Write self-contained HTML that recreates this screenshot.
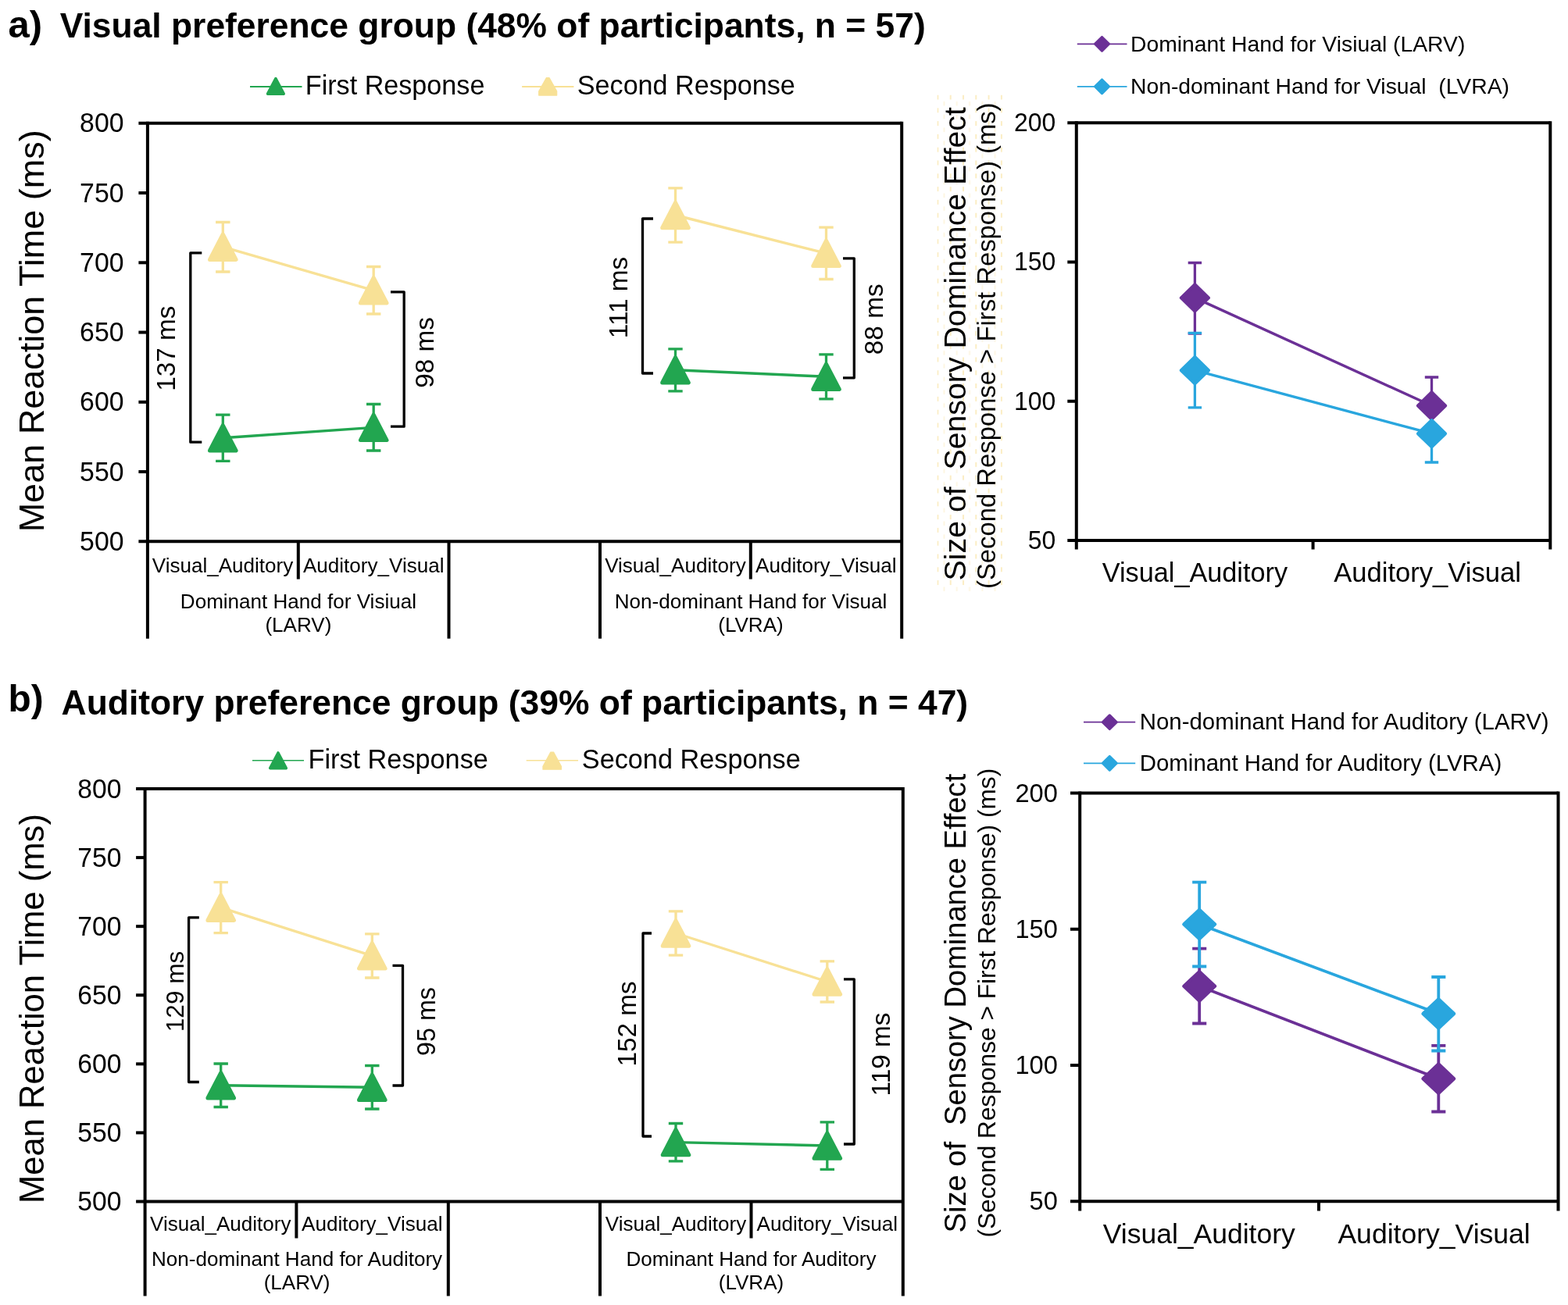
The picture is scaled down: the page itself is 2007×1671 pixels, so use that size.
<!DOCTYPE html>
<html lang="en"><head><meta charset="utf-8"><title>Sensory dominance figure</title>
<style>
html,body{margin:0;padding:0;background:#fff}
svg{display:block}
text{font-family:"Liberation Sans",Arial,Helvetica,sans-serif;fill:#000}
</style></head><body>
<svg width="2007" height="1671" viewBox="0 0 2007 1671">
<rect width="2007" height="1671" fill="#fff"/>
<defs><pattern id="pd" x="1199.4" y="121.5" width="16.3" height="16.8" patternUnits="userSpaceOnUse"><rect x="0" y="0" width="2" height="6" fill="#fbedc4"/><rect x="8.15" y="8.4" width="1.8" height="5.6" fill="#fdf5e0"/></pattern></defs>
<rect x="1199.4" y="121.5" width="84" height="636" fill="url(#pd)"/>
<text x="10.6" y="47.6" font-size="49" text-anchor="start" font-weight="bold">a)</text>
<text x="76.7" y="47.9" font-size="44.4" text-anchor="start" font-weight="bold">Visual preference group (48% of participants, n = 57)</text>
<text x="10.6" y="911.0" font-size="47.8" text-anchor="start" font-weight="bold">b)</text>
<text x="78.6" y="914.5" font-size="44.4" text-anchor="start" font-weight="bold">Auditory preference group (39% of participants, n = 47)</text>
<path d="M177.40 157.8H1154.2" stroke="#000" stroke-width="4" fill="none"/>
<path d="M177.40 693.3H1154.2" stroke="#000" stroke-width="4" fill="none"/>
<line x1="188.9" y1="155.8" x2="188.9" y2="817.7" stroke="#000" stroke-width="4" stroke-linecap="butt"/>
<line x1="1154.2" y1="155.8" x2="1154.2" y2="817.7" stroke="#000" stroke-width="4" stroke-linecap="butt"/>
<text x="158.5" y="169.45" font-size="33.8" text-anchor="end" transform="translate(0 -6.778) scale(1 1.04)">800</text>
<line x1="177.4" y1="247.05" x2="188.9" y2="247.05" stroke="#000" stroke-width="4" stroke-linecap="butt"/>
<text x="158.5" y="258.7" font-size="33.8" text-anchor="end" transform="translate(0 -10.348) scale(1 1.04)">750</text>
<line x1="177.4" y1="336.3" x2="188.9" y2="336.3" stroke="#000" stroke-width="4" stroke-linecap="butt"/>
<text x="158.5" y="347.95" font-size="33.8" text-anchor="end" transform="translate(0 -13.918) scale(1 1.04)">700</text>
<line x1="177.4" y1="425.55" x2="188.9" y2="425.55" stroke="#000" stroke-width="4" stroke-linecap="butt"/>
<text x="158.5" y="437.2" font-size="33.8" text-anchor="end" transform="translate(0 -17.488) scale(1 1.04)">650</text>
<line x1="177.4" y1="514.8" x2="188.9" y2="514.8" stroke="#000" stroke-width="4" stroke-linecap="butt"/>
<text x="158.5" y="526.45" font-size="33.8" text-anchor="end" transform="translate(0 -21.058) scale(1 1.04)">600</text>
<line x1="177.4" y1="604.05" x2="188.9" y2="604.05" stroke="#000" stroke-width="4" stroke-linecap="butt"/>
<text x="158.5" y="615.7" font-size="33.8" text-anchor="end" transform="translate(0 -24.628) scale(1 1.04)">550</text>
<text x="158.5" y="704.95" font-size="33.8" text-anchor="end" transform="translate(0 -28.198) scale(1 1.04)">500</text>
<line x1="381.8" y1="693.3" x2="381.8" y2="741.6" stroke="#000" stroke-width="4" stroke-linecap="butt"/>
<line x1="960.8" y1="693.3" x2="960.8" y2="741.6" stroke="#000" stroke-width="4" stroke-linecap="butt"/>
<line x1="574.5" y1="693.3" x2="574.5" y2="817.7" stroke="#000" stroke-width="4" stroke-linecap="butt"/>
<line x1="768.0" y1="693.3" x2="768.0" y2="817.7" stroke="#000" stroke-width="4" stroke-linecap="butt"/>
<text x="285.0" y="732.5" font-size="26.05" text-anchor="middle">Visual_Auditory</text>
<text x="478.2" y="732.5" font-size="26.05" text-anchor="middle">Auditory_Visual</text>
<text x="864.4" y="732.5" font-size="26.05" text-anchor="middle">Visual_Auditory</text>
<text x="1057.3" y="732.5" font-size="26.05" text-anchor="middle">Auditory_Visual</text>
<text x="381.9" y="778.7" font-size="26.05" text-anchor="middle">Dominant Hand for Visiual</text>
<text x="381.9" y="809.2" font-size="26.05" text-anchor="middle">(LARV)</text>
<text x="961.0" y="778.7" font-size="26.05" text-anchor="middle">Non-dominant Hand for Visual</text>
<text x="961.0" y="809.2" font-size="26.05" text-anchor="middle">(LVRA)</text>
<text x="56.4" y="423.8" font-size="45.0" text-anchor="middle" transform="rotate(-90 56.4 423.8)">Mean Reaction Time (ms)</text>
<line x1="320" y1="111.1" x2="386.5" y2="111.1" stroke="#22a650" stroke-width="2.0" stroke-linecap="butt"/>
<polygon points="352.90,100.60 363.20,120.20 342.60,120.20" fill="#22a650" stroke="#22a650" stroke-width="3.6" stroke-linejoin="round"/>
<text x="390.8" y="121.1" font-size="34.15" text-anchor="start">First Response</text>
<line x1="668.1" y1="111.1" x2="734.4" y2="111.1" stroke="#f8e196" stroke-width="2.0" stroke-linecap="butt"/>
<polygon points="699.40,99.60 703.00,99.60 712.70,116.90 712.70,122.10 689.70,122.10 689.70,116.90" fill="#f8e196" stroke="#f8e196" stroke-width="1.2" stroke-linejoin="round"/>
<text x="738.8" y="121.1" font-size="34.15" text-anchor="start">Second Response</text>
<path d="M276.10 284.50H294.50M285.30 284.50V348.00M276.10 348.00H294.50" stroke="#f8e196" stroke-width="3.3" fill="none"/>
<path d="M469.00 341.50H487.40M478.20 341.50V402.00M469.00 402.00H487.40" stroke="#f8e196" stroke-width="3.3" fill="none"/>
<path d="M855.30 240.80H873.70M864.50 240.80V310.20M855.30 310.20H873.70" stroke="#f8e196" stroke-width="3.3" fill="none"/>
<path d="M1048.30 291.20H1066.70M1057.50 291.20V357.50M1048.30 357.50H1066.70" stroke="#f8e196" stroke-width="3.3" fill="none"/>
<line x1="285.3" y1="316.2" x2="478.2" y2="371.8" stroke="#f8e196" stroke-width="3.4" stroke-linecap="butt"/>
<line x1="864.5" y1="275.5" x2="1057.5" y2="324.4" stroke="#f8e196" stroke-width="3.4" stroke-linecap="butt"/>
<polygon points="285.30,300.00 302.10,332.40 268.50,332.40" fill="#f8e196" stroke="#f8e196" stroke-width="5.0" stroke-linejoin="round"/>
<polygon points="478.20,355.60 495.00,388.00 461.40,388.00" fill="#f8e196" stroke="#f8e196" stroke-width="5.0" stroke-linejoin="round"/>
<polygon points="864.50,259.30 881.30,291.70 847.70,291.70" fill="#f8e196" stroke="#f8e196" stroke-width="5.0" stroke-linejoin="round"/>
<polygon points="1057.50,308.20 1074.30,340.60 1040.70,340.60" fill="#f8e196" stroke="#f8e196" stroke-width="5.0" stroke-linejoin="round"/>
<path d="M276.10 531.20H294.50M285.30 531.20V590.40M276.10 590.40H294.50" stroke="#22a650" stroke-width="3.3" fill="none"/>
<path d="M469.00 517.50H487.40M478.20 517.50V577.00M469.00 577.00H487.40" stroke="#22a650" stroke-width="3.3" fill="none"/>
<path d="M855.30 446.80H873.70M864.50 446.80V500.80M855.30 500.80H873.70" stroke="#22a650" stroke-width="3.3" fill="none"/>
<path d="M1048.30 453.80H1066.70M1057.50 453.80V510.80M1048.30 510.80H1066.70" stroke="#22a650" stroke-width="3.3" fill="none"/>
<line x1="285.3" y1="560.8" x2="478.2" y2="547.4" stroke="#22a650" stroke-width="3.4" stroke-linecap="butt"/>
<line x1="864.5" y1="473.8" x2="1057.5" y2="482.3" stroke="#22a650" stroke-width="3.4" stroke-linecap="butt"/>
<polygon points="285.30,544.60 302.10,577.00 268.50,577.00" fill="#22a650" stroke="#22a650" stroke-width="5.0" stroke-linejoin="round"/>
<polygon points="478.20,531.20 495.00,563.60 461.40,563.60" fill="#22a650" stroke="#22a650" stroke-width="5.0" stroke-linejoin="round"/>
<polygon points="864.50,457.60 881.30,490.00 847.70,490.00" fill="#22a650" stroke="#22a650" stroke-width="5.0" stroke-linejoin="round"/>
<polygon points="1057.50,466.10 1074.30,498.50 1040.70,498.50" fill="#22a650" stroke="#22a650" stroke-width="5.0" stroke-linejoin="round"/>
<path d="M258.30 323.80H243.80V566.20H258.30" stroke="#000" stroke-width="3.3" fill="none" stroke-linejoin="round"/>
<text x="224.5" y="446.2" font-size="33.3" text-anchor="middle" transform="rotate(-90 224.5 446.2)">137 ms</text>
<path d="M500.00 373.80H517.20V546.20H500.00" stroke="#000" stroke-width="3.3" fill="none" stroke-linejoin="round"/>
<text x="555.0" y="451.5" font-size="33.3" text-anchor="middle" transform="rotate(-90 555.0 451.5)">98 ms</text>
<path d="M836.00 280.00H822.50V478.00H836.00" stroke="#000" stroke-width="3.3" fill="none" stroke-linejoin="round"/>
<text x="802.5" y="381.0" font-size="33.3" text-anchor="middle" transform="rotate(-90 802.5 381.0)">111 ms</text>
<path d="M1079.00 330.80H1093.30V483.80H1079.00" stroke="#000" stroke-width="3.3" fill="none" stroke-linejoin="round"/>
<text x="1130.0" y="408.8" font-size="33.3" text-anchor="middle" transform="rotate(-90 1130.0 408.8)">88 ms</text>
<path d="M174.10 1010.0H1155.8" stroke="#000" stroke-width="4" fill="none"/>
<path d="M174.10 1538.5H1155.8" stroke="#000" stroke-width="4" fill="none"/>
<line x1="185.6" y1="1008.0" x2="185.6" y2="1659.5" stroke="#000" stroke-width="4" stroke-linecap="butt"/>
<line x1="1155.8" y1="1008.0" x2="1155.8" y2="1659.5" stroke="#000" stroke-width="4" stroke-linecap="butt"/>
<text x="155.4" y="1021.65" font-size="33.6" text-anchor="end" transform="translate(0 -40.866) scale(1 1.04)">800</text>
<line x1="174.1" y1="1098.0833333333333" x2="185.6" y2="1098.0833333333333" stroke="#000" stroke-width="4" stroke-linecap="butt"/>
<text x="155.4" y="1109.73" font-size="33.6" text-anchor="end" transform="translate(0 -44.389) scale(1 1.04)">750</text>
<line x1="174.1" y1="1186.1666666666667" x2="185.6" y2="1186.1666666666667" stroke="#000" stroke-width="4" stroke-linecap="butt"/>
<text x="155.4" y="1197.82" font-size="33.6" text-anchor="end" transform="translate(0 -47.913) scale(1 1.04)">700</text>
<line x1="174.1" y1="1274.25" x2="185.6" y2="1274.25" stroke="#000" stroke-width="4" stroke-linecap="butt"/>
<text x="155.4" y="1285.9" font-size="33.6" text-anchor="end" transform="translate(0 -51.436) scale(1 1.04)">650</text>
<line x1="174.1" y1="1362.3333333333333" x2="185.6" y2="1362.3333333333333" stroke="#000" stroke-width="4" stroke-linecap="butt"/>
<text x="155.4" y="1373.98" font-size="33.6" text-anchor="end" transform="translate(0 -54.959) scale(1 1.04)">600</text>
<line x1="174.1" y1="1450.4166666666665" x2="185.6" y2="1450.4166666666665" stroke="#000" stroke-width="4" stroke-linecap="butt"/>
<text x="155.4" y="1462.07" font-size="33.6" text-anchor="end" transform="translate(0 -58.483) scale(1 1.04)">550</text>
<text x="155.4" y="1550.15" font-size="33.6" text-anchor="end" transform="translate(0 -62.006) scale(1 1.04)">500</text>
<line x1="379.4" y1="1538.5" x2="379.4" y2="1585.5" stroke="#000" stroke-width="4" stroke-linecap="butt"/>
<line x1="961.5" y1="1538.5" x2="961.5" y2="1585.5" stroke="#000" stroke-width="4" stroke-linecap="butt"/>
<line x1="573.8" y1="1538.5" x2="573.8" y2="1659.5" stroke="#000" stroke-width="4" stroke-linecap="butt"/>
<line x1="768.0" y1="1538.5" x2="768.0" y2="1659.5" stroke="#000" stroke-width="4" stroke-linecap="butt"/>
<text x="282.3" y="1576.0" font-size="26.05" text-anchor="middle">Visual_Auditory</text>
<text x="476.3" y="1576.0" font-size="26.05" text-anchor="middle">Auditory_Visual</text>
<text x="865.0" y="1576.0" font-size="26.05" text-anchor="middle">Visual_Auditory</text>
<text x="1058.8" y="1576.0" font-size="26.05" text-anchor="middle">Auditory_Visual</text>
<text x="380.1" y="1621.0" font-size="26.05" text-anchor="middle">Non-dominant Hand for Auditory</text>
<text x="380.1" y="1650.5" font-size="26.05" text-anchor="middle">(LARV)</text>
<text x="961.5" y="1621.0" font-size="26.05" text-anchor="middle">Dominant Hand for Auditory</text>
<text x="961.5" y="1650.5" font-size="26.05" text-anchor="middle">(LVRA)</text>
<text x="56.3" y="1291.6" font-size="43.6" text-anchor="middle" transform="rotate(-90 56.3 1291.6)">Mean Reaction Time (ms)</text>
<line x1="323" y1="973.8" x2="389" y2="973.8" stroke="#22a650" stroke-width="1.6" stroke-linecap="butt"/>
<polygon points="356.00,964.00 366.30,983.60 345.70,983.60" fill="#22a650" stroke="#22a650" stroke-width="3.6" stroke-linejoin="round"/>
<text x="394.5" y="984.3" font-size="34.25" text-anchor="start">First Response</text>
<line x1="673.7" y1="973.8" x2="740.0" y2="973.8" stroke="#f8e196" stroke-width="1.6" stroke-linecap="butt"/>
<polygon points="704.80,963.05 708.60,963.05 718.45,981.20 718.45,985.20 694.95,985.20 694.95,981.20" fill="#f8e196" stroke="#f8e196" stroke-width="1.2" stroke-linejoin="round"/>
<text x="744.8" y="984.3" font-size="34.25" text-anchor="start">Second Response</text>
<path d="M273.50 1129.70H291.90M282.70 1129.70V1194.70M273.50 1194.70H291.90" stroke="#f8e196" stroke-width="3.3" fill="none"/>
<path d="M467.10 1195.80H485.50M476.30 1195.80V1252.00M467.10 1252.00H485.50" stroke="#f8e196" stroke-width="3.3" fill="none"/>
<path d="M855.80 1166.80H874.20M865.00 1166.80V1223.20M855.80 1223.20H874.20" stroke="#f8e196" stroke-width="3.3" fill="none"/>
<path d="M1049.60 1230.80H1068.00M1058.80 1230.80V1283.00M1049.60 1283.00H1068.00" stroke="#f8e196" stroke-width="3.3" fill="none"/>
<line x1="282.7" y1="1162.2" x2="476.3" y2="1223.9" stroke="#f8e196" stroke-width="3.4" stroke-linecap="butt"/>
<line x1="865.0" y1="1195.0" x2="1058.8" y2="1257.0" stroke="#f8e196" stroke-width="3.4" stroke-linecap="butt"/>
<polygon points="282.70,1146.00 299.50,1178.40 265.90,1178.40" fill="#f8e196" stroke="#f8e196" stroke-width="5.0" stroke-linejoin="round"/>
<polygon points="476.30,1207.70 493.10,1240.10 459.50,1240.10" fill="#f8e196" stroke="#f8e196" stroke-width="5.0" stroke-linejoin="round"/>
<polygon points="865.00,1178.80 881.80,1211.20 848.20,1211.20" fill="#f8e196" stroke="#f8e196" stroke-width="5.0" stroke-linejoin="round"/>
<polygon points="1058.80,1240.80 1075.60,1273.20 1042.00,1273.20" fill="#f8e196" stroke="#f8e196" stroke-width="5.0" stroke-linejoin="round"/>
<path d="M273.50 1362.00H291.90M282.70 1362.00V1417.50M273.50 1417.50H291.90" stroke="#22a650" stroke-width="3.3" fill="none"/>
<path d="M467.10 1364.50H485.50M476.30 1364.50V1420.00M467.10 1420.00H485.50" stroke="#22a650" stroke-width="3.3" fill="none"/>
<path d="M855.80 1438.50H874.20M865.00 1438.50V1486.80M855.80 1486.80H874.20" stroke="#22a650" stroke-width="3.3" fill="none"/>
<path d="M1049.60 1436.80H1068.00M1058.80 1436.80V1497.30M1049.60 1497.30H1068.00" stroke="#22a650" stroke-width="3.3" fill="none"/>
<line x1="282.7" y1="1389.8" x2="476.3" y2="1392.3" stroke="#22a650" stroke-width="3.4" stroke-linecap="butt"/>
<line x1="865.0" y1="1462.6" x2="1058.8" y2="1467.0" stroke="#22a650" stroke-width="3.4" stroke-linecap="butt"/>
<polygon points="282.70,1373.60 299.50,1406.00 265.90,1406.00" fill="#22a650" stroke="#22a650" stroke-width="5.0" stroke-linejoin="round"/>
<polygon points="476.30,1376.10 493.10,1408.50 459.50,1408.50" fill="#22a650" stroke="#22a650" stroke-width="5.0" stroke-linejoin="round"/>
<polygon points="865.00,1446.40 881.80,1478.80 848.20,1478.80" fill="#22a650" stroke="#22a650" stroke-width="5.0" stroke-linejoin="round"/>
<polygon points="1058.80,1450.80 1075.60,1483.20 1042.00,1483.20" fill="#22a650" stroke="#22a650" stroke-width="5.0" stroke-linejoin="round"/>
<path d="M254.80 1174.80H241.60V1385.50H254.80" stroke="#000" stroke-width="3.3" fill="none" stroke-linejoin="round"/>
<text x="235.0" y="1269.5" font-size="31.5" text-anchor="middle" transform="rotate(-90 235.0 1269.5)">129 ms</text>
<path d="M502.50 1236.30H515.50V1390.00H502.50" stroke="#000" stroke-width="3.3" fill="none" stroke-linejoin="round"/>
<text x="557.0" y="1308.0" font-size="32.3" text-anchor="middle" transform="rotate(-90 557.0 1308.0)">95 ms</text>
<path d="M834.00 1195.00H823.00V1455.00H834.00" stroke="#000" stroke-width="3.3" fill="none" stroke-linejoin="round"/>
<text x="813.5" y="1311.0" font-size="33.3" text-anchor="middle" transform="rotate(-90 813.5 1311.0)">152 ms</text>
<path d="M1080.00 1253.80H1093.30V1465.00H1080.00" stroke="#000" stroke-width="3.3" fill="none" stroke-linejoin="round"/>
<text x="1138.5" y="1350.0" font-size="33.3" text-anchor="middle" transform="rotate(-90 1138.5 1350.0)">119 ms</text>
<path d="M1366.30 157.3H1984.3" stroke="#000" stroke-width="4" fill="none"/>
<path d="M1366.30 692.0H1984.3" stroke="#000" stroke-width="4" fill="none"/>
<line x1="1377.8" y1="155.3" x2="1377.8" y2="703.5" stroke="#000" stroke-width="4" stroke-linecap="butt"/>
<line x1="1984.3" y1="155.3" x2="1984.3" y2="703.5" stroke="#000" stroke-width="4" stroke-linecap="butt"/>
<line x1="1680.6" y1="692.0" x2="1680.6" y2="703.5" stroke="#000" stroke-width="4" stroke-linecap="butt"/>
<text x="1351.2" y="168.15" font-size="31.9" text-anchor="end" transform="translate(0 -6.726) scale(1 1.04)">200</text>
<line x1="1366.3" y1="335.53333333333336" x2="1377.8" y2="335.53333333333336" stroke="#000" stroke-width="4" stroke-linecap="butt"/>
<text x="1351.2" y="346.38" font-size="31.9" text-anchor="end" transform="translate(0 -13.855) scale(1 1.04)">150</text>
<line x1="1366.3" y1="513.7666666666667" x2="1377.8" y2="513.7666666666667" stroke="#000" stroke-width="4" stroke-linecap="butt"/>
<text x="1351.2" y="524.62" font-size="31.9" text-anchor="end" transform="translate(0 -20.985) scale(1 1.04)">100</text>
<text x="1351.2" y="702.85" font-size="31.9" text-anchor="end" transform="translate(0 -28.114) scale(1 1.04)">50</text>
<text x="1529.4" y="745.0" font-size="34.25" text-anchor="middle">Visual_Auditory</text>
<text x="1827.1" y="745.0" font-size="34.6" text-anchor="middle">Auditory_Visual</text>
<text x="1235.9" y="440.3" font-size="39.29" text-anchor="middle" transform="rotate(-90 1235.9 440.3)" xml:space="preserve">Size of  Sensory Dominance Effect</text>
<text x="1273.6" y="442.7" font-size="32.8" text-anchor="middle" transform="rotate(-90 1273.6 442.7)">(Second Response &gt; First Response) (ms)</text>
<line x1="1378.8" y1="56.3" x2="1442.5" y2="56.3" stroke="#6b3096" stroke-width="1.8" stroke-linecap="butt"/>
<polygon points="1410.50,47.60 1419.20,56.30 1410.50,65.00 1401.80,56.30" fill="#6b3096" stroke="#6b3096" stroke-width="3.4" stroke-linejoin="round"/>
<text x="1447.0" y="66.3" font-size="28.3" text-anchor="start" xml:space="preserve">Dominant Hand for Visiual (LARV)</text>
<line x1="1378.8" y1="110.8" x2="1442.5" y2="110.8" stroke="#29a6de" stroke-width="1.8" stroke-linecap="butt"/>
<polygon points="1410.50,102.10 1419.20,110.80 1410.50,119.50 1401.80,110.80" fill="#29a6de" stroke="#29a6de" stroke-width="3.4" stroke-linejoin="round"/>
<text x="1447.0" y="120.0" font-size="28.3" text-anchor="start" xml:space="preserve">Non-dominant Hand for Visual  (LVRA)</text>
<path d="M1520.70 336.50H1538.10M1529.40 336.50V427.00M1520.70 427.00H1538.10" stroke="#6b3096" stroke-width="3.3" fill="none"/>
<path d="M1823.80 483.00H1841.20M1832.50 483.00V556.00M1823.80 556.00H1841.20" stroke="#6b3096" stroke-width="3.3" fill="none"/>
<path d="M1520.70 426.30H1538.10M1529.40 426.30V521.80M1520.70 521.80H1538.10" stroke="#29a6de" stroke-width="3.3" fill="none"/>
<path d="M1823.80 518.50H1841.20M1832.50 518.50V592.00M1823.80 592.00H1841.20" stroke="#29a6de" stroke-width="3.3" fill="none"/>
<line x1="1529.4" y1="381.4" x2="1832.5" y2="519.5" stroke="#6b3096" stroke-width="3.4" stroke-linecap="butt"/>
<line x1="1529.4" y1="474.2" x2="1832.5" y2="555.2" stroke="#29a6de" stroke-width="3.4" stroke-linecap="butt"/>
<polygon points="1529.40,364.20 1547.00,381.40 1529.40,398.60 1511.80,381.40" fill="#6b3096" stroke="#6b3096" stroke-width="4" stroke-linejoin="round"/>
<polygon points="1832.50,502.30 1850.10,519.50 1832.50,536.70 1814.90,519.50" fill="#6b3096" stroke="#6b3096" stroke-width="4" stroke-linejoin="round"/>
<polygon points="1529.40,457.00 1547.00,474.20 1529.40,491.40 1511.80,474.20" fill="#29a6de" stroke="#29a6de" stroke-width="4" stroke-linejoin="round"/>
<polygon points="1832.50,538.00 1850.10,555.20 1832.50,572.40 1814.90,555.20" fill="#29a6de" stroke="#29a6de" stroke-width="4" stroke-linejoin="round"/>
<path d="M1370.00 1015.5H1994.5" stroke="#000" stroke-width="4" fill="none"/>
<path d="M1370.00 1538.3H1994.5" stroke="#000" stroke-width="4" fill="none"/>
<line x1="1382.2" y1="1013.5" x2="1382.2" y2="1550.5" stroke="#000" stroke-width="4" stroke-linecap="butt"/>
<line x1="1994.5" y1="1013.5" x2="1994.5" y2="1550.5" stroke="#000" stroke-width="4" stroke-linecap="butt"/>
<line x1="1688.0" y1="1538.3" x2="1688.0" y2="1550.5" stroke="#000" stroke-width="4" stroke-linecap="butt"/>
<text x="1353.8" y="1026.55" font-size="32.6" text-anchor="end" transform="translate(0 -41.062) scale(1 1.04)">200</text>
<line x1="1370.0" y1="1189.7666666666667" x2="1382.2" y2="1189.7666666666667" stroke="#000" stroke-width="4" stroke-linecap="butt"/>
<text x="1353.8" y="1200.82" font-size="32.6" text-anchor="end" transform="translate(0 -48.033) scale(1 1.04)">150</text>
<line x1="1370.0" y1="1364.0333333333333" x2="1382.2" y2="1364.0333333333333" stroke="#000" stroke-width="4" stroke-linecap="butt"/>
<text x="1353.8" y="1375.08" font-size="32.6" text-anchor="end" transform="translate(0 -55.003) scale(1 1.04)">100</text>
<text x="1353.8" y="1549.35" font-size="32.6" text-anchor="end" transform="translate(0 -61.974) scale(1 1.04)">50</text>
<text x="1534.8" y="1591.8" font-size="35.5" text-anchor="middle">Visual_Auditory</text>
<text x="1835.6" y="1591.8" font-size="35.55" text-anchor="middle">Auditory_Visual</text>
<text x="1236.0" y="1284.6" font-size="38.1" text-anchor="middle" transform="rotate(-90 1236.0 1284.6)" xml:space="preserve">Size of  Sensory Dominance Effect</text>
<text x="1273.9" y="1284.2" font-size="31.67" text-anchor="middle" transform="rotate(-90 1273.9 1284.2)">(Second Response &gt; First Response) (ms)</text>
<line x1="1387.0" y1="924.7" x2="1453.2" y2="924.7" stroke="#6b3096" stroke-width="1.8" stroke-linecap="butt"/>
<polygon points="1420.30,916.00 1429.00,924.70 1420.30,933.40 1411.60,924.70" fill="#6b3096" stroke="#6b3096" stroke-width="3.4" stroke-linejoin="round"/>
<text x="1458.8" y="933.9" font-size="29.4" text-anchor="start" xml:space="preserve">Non-dominant Hand for Auditory (LARV)</text>
<line x1="1387.0" y1="977.3" x2="1453.2" y2="977.3" stroke="#29a6de" stroke-width="1.8" stroke-linecap="butt"/>
<polygon points="1420.30,968.60 1429.00,977.30 1420.30,986.00 1411.60,977.30" fill="#29a6de" stroke="#29a6de" stroke-width="3.4" stroke-linejoin="round"/>
<text x="1458.8" y="986.6" font-size="29.4" text-anchor="start" xml:space="preserve">Dominant Hand for Auditory (LVRA)</text>
<path d="M1526.15 1214.70H1544.25M1535.20 1214.70V1310.50M1526.15 1310.50H1544.25" stroke="#6b3096" stroke-width="3.8" fill="none"/>
<path d="M1832.25 1338.80H1850.35M1841.30 1338.80V1423.50M1832.25 1423.50H1850.35" stroke="#6b3096" stroke-width="3.8" fill="none"/>
<path d="M1526.15 1129.70H1544.25M1535.20 1129.70V1237.50M1526.15 1237.50H1544.25" stroke="#29a6de" stroke-width="3.8" fill="none"/>
<path d="M1832.25 1251.00H1850.35M1841.30 1251.00V1345.50M1832.25 1345.50H1850.35" stroke="#29a6de" stroke-width="3.8" fill="none"/>
<line x1="1535.2" y1="1262.8" x2="1841.3" y2="1381.2" stroke="#6b3096" stroke-width="3.7" stroke-linecap="butt"/>
<line x1="1535.2" y1="1183.5" x2="1841.3" y2="1298.0" stroke="#29a6de" stroke-width="3.7" stroke-linecap="butt"/>
<polygon points="1535.20,1243.90 1555.20,1262.80 1535.20,1281.70 1515.20,1262.80" fill="#6b3096" stroke="#6b3096" stroke-width="4" stroke-linejoin="round"/>
<polygon points="1841.30,1362.30 1861.30,1381.20 1841.30,1400.10 1821.30,1381.20" fill="#6b3096" stroke="#6b3096" stroke-width="4" stroke-linejoin="round"/>
<polygon points="1535.20,1164.60 1555.20,1183.50 1535.20,1202.40 1515.20,1183.50" fill="#29a6de" stroke="#29a6de" stroke-width="4" stroke-linejoin="round"/>
<polygon points="1841.30,1279.10 1861.30,1298.00 1841.30,1316.90 1821.30,1298.00" fill="#29a6de" stroke="#29a6de" stroke-width="4" stroke-linejoin="round"/>
</svg>
</body></html>
